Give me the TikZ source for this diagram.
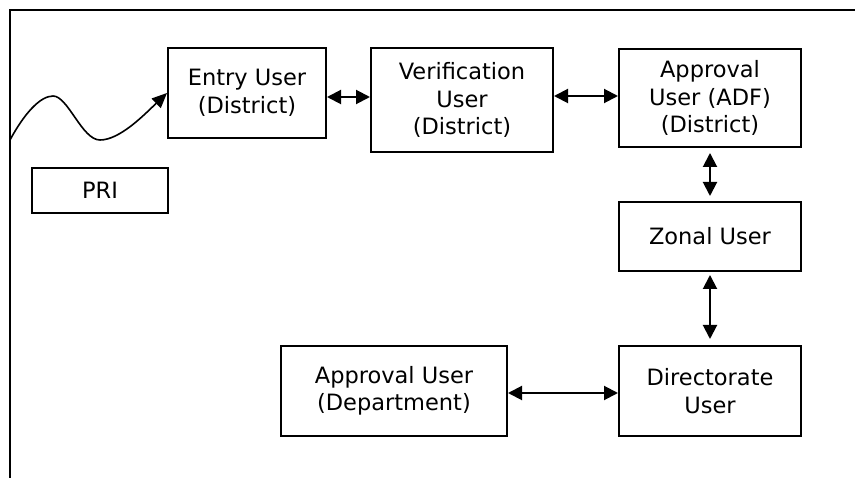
\documentclass[tikz,border=0pt]{standalone}
\usepackage{fontspec}
\setmainfont{DejaVu Sans}
\usetikzlibrary{arrows.meta}

\tikzset{
  userbox/.style={draw, line width=2pt, align=center, inner sep=0pt,
    font=\fontsize{22.5}{27.5}\selectfont},
  link/.style={line width=2pt, {Triangle[length=14pt,width=14pt]}-{Triangle[length=14pt,width=14pt]}},
}

\begin{document}
\begin{tikzpicture}[x=1pt, y=-1pt]
    \useasboundingbox (0,0) rectangle (855,478);
    % open frame
    \draw[line width=2pt] (855,10) -| (10,478);

    \node[userbox, minimum width=158pt, minimum height=90pt] (entry) at (247,93) {Entry User\\(District)};
    \node[userbox, minimum width=182pt, minimum height=104pt] (verif) at (462,100) {Verification\\User\\(District)};
    \node[userbox, minimum width=182pt, minimum height=98pt] (adf) at (710,98) {Approval\\User (ADF)\\(District)};
    \node[userbox, minimum width=182pt, minimum height=69pt] (zonal) at (710,236.5) {Zonal User};
    \node[userbox, minimum width=182pt, minimum height=90pt] (direct) at (710,391) {Directorate\\User};
    \node[userbox, minimum width=226pt, minimum height=90pt] (dept) at (394,391) {Approval User\\(Department)};
    \node[userbox, minimum width=136pt, minimum height=45pt] (pri) at (100,190.5) {PRI};

    % wavy input
    \coordinate (start) at (10,140);
    \draw[line width=1.6pt, -{Triangle[length=15pt,width=13pt]}] (start)
        .. controls (24,114) and (40,96) .. (53,96)
        .. controls (68,96) and (82,140) .. (100,140)
        .. controls (120,140) and (145,114) .. (entry.west);

    \draw[link] ([yshift=-4pt]entry.east) -- ([yshift=-4pt]entry.east -| verif.west);
    \draw[link] ([yshift=2pt]adf.west -| verif.east) -- ([yshift=2pt]adf.west);
    \draw[link, shorten <=5pt, shorten >=5pt] (adf) -- (zonal);
    \draw[link, shorten <=3pt, shorten >=6pt] (zonal) -- (direct);
    \draw[link] ([yshift=-2pt]dept.east) -- ([yshift=-2pt]direct.west);
\end{tikzpicture}
\end{document}
